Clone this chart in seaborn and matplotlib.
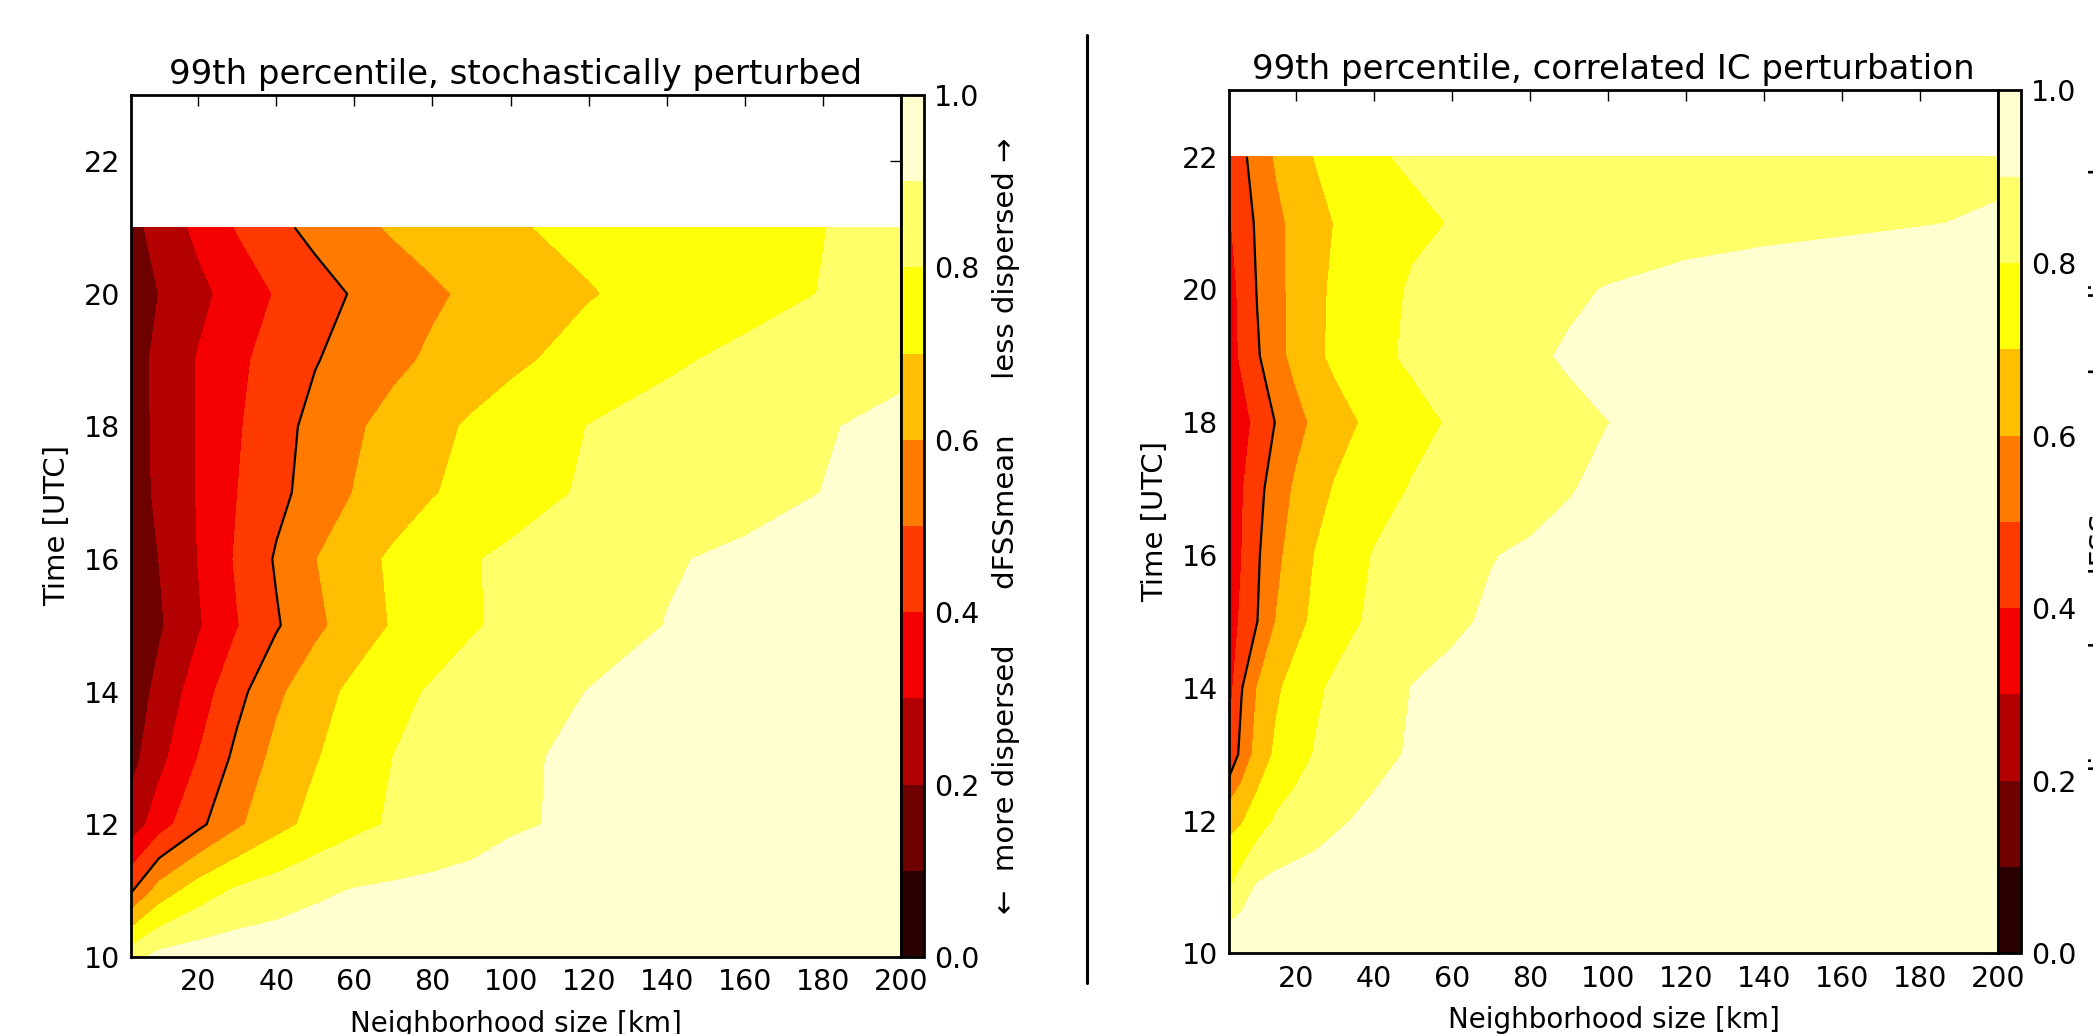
import numpy as np
import matplotlib
matplotlib.use("Agg")
import matplotlib.pyplot as plt
import seaborn as sns
from matplotlib.lines import Line2D
from matplotlib.ticker import FormatStrFormatter

# neighbourhood sizes [km] (columns) and hours [UTC] (rows)
sizes_stoch = [2.8, 10, 20, 30, 40, 50, 60, 70, 80, 90, 100, 120, 140, 160, 180, 200]
hours_stoch = [10, 11, 12, 13, 14, 15, 16, 17, 18, 19, 20, 21]

# dFSSmean, 99th percentile, stochastically perturbed (row = hour)
dfss_stoch = [
    [0.86, 0.93, 0.95, 0.96, 0.965, 0.97, 0.97, 0.975, 0.975, 0.978, 0.98, 0.98, 0.982, 0.985, 0.985, 0.985],
    [0.49, 0.639, 0.748, 0.814, 0.847, 0.881, 0.905, 0.915, 0.925, 0.935, 0.94, 0.95, 0.955, 0.96, 0.965, 0.97],
    [0.24, 0.356, 0.477, 0.583, 0.668, 0.728, 0.776, 0.811, 0.834, 0.858, 0.89, 0.915, 0.93, 0.94, 0.95, 0.96],
    [0.167, 0.27, 0.402, 0.526, 0.627, 0.693, 0.748, 0.801, 0.827, 0.853, 0.888, 0.915, 0.925, 0.935, 0.948, 0.96],
    [0.141, 0.228, 0.348, 0.47, 0.579, 0.66, 0.723, 0.772, 0.81, 0.834, 0.858, 0.902, 0.915, 0.93, 0.945, 0.955],
    [0.13, 0.187, 0.289, 0.395, 0.49, 0.577, 0.647, 0.708, 0.75, 0.792, 0.817, 0.861, 0.902, 0.918, 0.934, 0.95],
    [0.14, 0.201, 0.302, 0.412, 0.51, 0.597, 0.662, 0.716, 0.755, 0.794, 0.816, 0.855, 0.893, 0.915, 0.932, 0.95],
    [0.154, 0.218, 0.306, 0.399, 0.473, 0.541, 0.603, 0.648, 0.694, 0.728, 0.761, 0.812, 0.841, 0.871, 0.901, 0.93],
    [0.157, 0.22, 0.307, 0.389, 0.464, 0.529, 0.586, 0.632, 0.674, 0.712, 0.743, 0.802, 0.833, 0.864, 0.894, 0.92],
    [0.16, 0.222, 0.306, 0.379, 0.44, 0.495, 0.537, 0.578, 0.615, 0.648, 0.681, 0.736, 0.786, 0.821, 0.851, 0.88],
    [0.16, 0.201, 0.273, 0.342, 0.407, 0.46, 0.509, 0.547, 0.585, 0.616, 0.642, 0.694, 0.731, 0.767, 0.803, 0.85],
    [0.17, 0.235, 0.323, 0.406, 0.475, 0.528, 0.573, 0.611, 0.637, 0.664, 0.691, 0.722, 0.748, 0.774, 0.798, 0.84],
]

sizes_ic = [2.8, 6, 10, 15, 20, 25, 30, 40, 50, 60, 70, 80, 90, 100, 120, 140, 160, 180, 200]
hours_ic = [10, 11, 12, 13, 14, 15, 16, 17, 18, 19, 20, 21, 22]

# dFSSmean, 99th percentile, correlated IC perturbation (row = hour)
dfss_ic = [
    [0.99, 0.985, 0.98, 0.978, 0.978, 0.978, 0.978, 0.98, 0.98, 0.98, 0.98, 0.98, 0.982, 0.982, 0.982, 0.985, 0.985, 0.985, 0.985],
    [0.79, 0.849, 0.91, 0.93, 0.94, 0.945, 0.95, 0.955, 0.96, 0.962, 0.965, 0.968, 0.97, 0.972, 0.975, 0.977, 0.98, 0.982, 0.982],
    [0.67, 0.691, 0.751, 0.812, 0.837, 0.862, 0.887, 0.92, 0.935, 0.945, 0.95, 0.955, 0.96, 0.962, 0.965, 0.968, 0.97, 0.975, 0.98],
    [0.41, 0.532, 0.633, 0.72, 0.766, 0.806, 0.829, 0.874, 0.91, 0.925, 0.935, 0.945, 0.95, 0.955, 0.96, 0.965, 0.97, 0.975, 0.98],
    [0.36, 0.494, 0.602, 0.685, 0.738, 0.785, 0.815, 0.859, 0.903, 0.92, 0.93, 0.94, 0.945, 0.95, 0.96, 0.965, 0.97, 0.975, 0.98],
    [0.351, 0.416, 0.498, 0.605, 0.67, 0.722, 0.762, 0.818, 0.853, 0.887, 0.91, 0.925, 0.935, 0.94, 0.95, 0.96, 0.97, 0.975, 0.98],
    [0.33, 0.398, 0.487, 0.577, 0.646, 0.704, 0.74, 0.805, 0.835, 0.866, 0.897, 0.91, 0.925, 0.935, 0.95, 0.96, 0.97, 0.975, 0.98],
    [0.33, 0.39, 0.47, 0.55, 0.615, 0.664, 0.707, 0.763, 0.807, 0.829, 0.851, 0.873, 0.895, 0.92, 0.945, 0.96, 0.97, 0.978, 0.982],
    [0.295, 0.359, 0.429, 0.507, 0.568, 0.62, 0.661, 0.725, 0.772, 0.809, 0.832, 0.854, 0.877, 0.899, 0.93, 0.95, 0.965, 0.975, 0.98],
    [0.356, 0.415, 0.489, 0.567, 0.629, 0.681, 0.719, 0.778, 0.815, 0.838, 0.862, 0.885, 0.91, 0.93, 0.95, 0.965, 0.975, 0.98, 0.985],
    [0.36, 0.424, 0.504, 0.573, 0.629, 0.678, 0.715, 0.77, 0.809, 0.828, 0.847, 0.866, 0.885, 0.905, 0.94, 0.965, 0.975, 0.98, 0.985],
    [0.39, 0.445, 0.515, 0.578, 0.626, 0.667, 0.703, 0.745, 0.785, 0.803, 0.811, 0.818, 0.826, 0.834, 0.849, 0.864, 0.88, 0.895, 0.91],
    [0.42, 0.478, 0.542, 0.612, 0.66, 0.704, 0.729, 0.792, 0.81, 0.813, 0.816, 0.82, 0.824, 0.829, 0.839, 0.849, 0.86, 0.87, 0.88],
]

levels = [0.0, 0.1, 0.2, 0.3, 0.4, 0.5, 0.6, 0.7, 0.8, 0.9, 1.0]
cbar_ticks = [0.0, 0.2, 0.4, 0.6, 0.8, 1.0]
cbar_label = "\u2190  more dispersed      dFSSmean      less dispersed \u2192"

sns.set_style("white")
plt.rcParams["font.family"] = ["DejaVu Sans"]
plt.rcParams["font.size"] = 20
plt.rcParams["text.color"] = "black"
plt.rcParams["axes.labelcolor"] = "black"
plt.rcParams["xtick.color"] = "black"
plt.rcParams["ytick.color"] = "black"


def plot_panel(fig, ax_rect, cax_rect, sizes, hours, dfss, title):
    ax = fig.add_axes(ax_rect)
    cax = fig.add_axes(cax_rect)
    z = np.array(dfss)
    cs = ax.contourf(sizes, hours, z, levels=levels, cmap="hot", vmin=0, vmax=1)
    ax.contour(sizes, hours, z, levels=[0.5], colors="k", linewidths=1.6)
    ax.set_xlim(2.8, 200)
    ax.set_ylim(10, 23)
    ax.set_xticks(range(20, 201, 20))
    ax.set_yticks(range(10, 23, 2))
    ax.tick_params(direction="in", top=True, right=True, length=8, width=1,
                   labelsize=20.5, pad=8, colors="k")
    for sp in ax.spines.values():
        sp.set_linewidth(2)
        sp.set_color("k")
    ax.set_title(title, fontsize=24.5, pad=8, color="k")
    ax.set_xlabel("Neighborhood size [km]", fontsize=20, labelpad=10)
    ax.set_ylabel("Time [UTC]", fontsize=21, labelpad=9)

    cb = fig.colorbar(cs, cax=cax, ticks=cbar_ticks)
    cb.ax.yaxis.set_major_formatter(FormatStrFormatter("%.1f"))
    cb.ax.tick_params(direction="in", length=8, width=1, labelsize=20.5, pad=7,
                      right=True, left=False, colors="k")
    cb.outline.set_linewidth(2)
    cb.outline.set_edgecolor("k")
    cb.set_label(cbar_label, fontsize=21, labelpad=9, color="k")
    return ax


fig = plt.figure(figsize=(20.93, 10.34), dpi=100)

plot_panel(fig, [0.0626, 0.0745, 0.3679, 0.8337], [0.4305, 0.0745, 0.011, 0.8337],
           sizes_stoch, hours_stoch, dfss_stoch,
           "99th percentile, stochastically perturbed")
plot_panel(fig, [0.5872, 0.0779, 0.3674, 0.8348], [0.9546, 0.0779, 0.011, 0.8348],
           sizes_ic, hours_ic, dfss_ic,
           "99th percentile, correlated IC perturbation")

# vertical separator between the two panels
fig.add_artist(Line2D([0.5192, 0.5192], [0.966, 0.049], color="k", lw=2.2,
                      transform=fig.transFigure))

fig.savefig("out.png", dpi=100)
